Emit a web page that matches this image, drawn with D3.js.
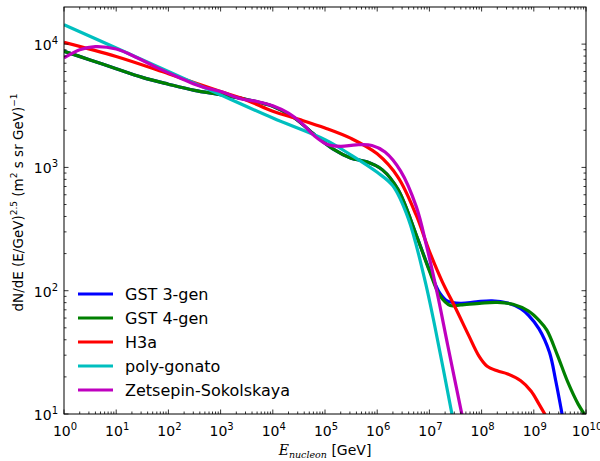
<!DOCTYPE html>
<html>
<head>
<meta charset="utf-8">
<script src="https://cdn.jsdelivr.net/npm/d3@7"></script>
<style>
  body { margin: 0; background: #fff; }
  svg { display: block; font-family: "DejaVu Sans", sans-serif; }
</style>
</head>
<body>
<svg id="chart" width="600" height="461"></svg>
<script>
// values, as log10(E / GeV) and log10(flux)
const gst4LogE = [0, 0.5, 1, 1.5, 2, 2.5, 3, 3.5, 4, 4.4, 4.8, 5.15, 5.5, 5.8, 6.1, 6.4, 6.75, 7.0, 7.2, 7.4, 7.6, 8.0, 8.3, 8.6, 8.9, 9.1, 9.25, 9.45, 9.65, 9.85, 10.0];
const gst4LogF = [3.942, 3.872, 3.80, 3.73, 3.675, 3.625, 3.59, 3.55, 3.495, 3.405, 3.265, 3.15, 3.075, 3.045, 2.98, 2.82, 2.45, 2.16, 1.96, 1.88, 1.885, 1.90, 1.905, 1.89, 1.835, 1.76, 1.68, 1.48, 1.26, 1.08, 0.98];

const gst3LogE = [0, 0.5, 1, 1.5, 2, 2.5, 3, 3.5, 4, 4.4, 4.8, 5.15, 5.5, 5.8, 6.1, 6.4, 6.75, 7.0, 7.2, 7.35, 7.6, 7.9, 8.2, 8.5, 8.75, 8.9, 9.1, 9.3, 9.42, 9.55];
const gst3LogF = [3.942, 3.872, 3.80, 3.73, 3.675, 3.625, 3.59, 3.55, 3.495, 3.405, 3.265, 3.15, 3.075, 3.045, 2.98, 2.82, 2.45, 2.17, 1.98, 1.915, 1.898, 1.91, 1.918, 1.90, 1.855, 1.80, 1.69, 1.50, 1.27, 0.98];

const h3aLogE = [0, 1, 2, 3, 3.5, 4, 4.5, 5, 5.5, 6, 6.4, 6.75, 7.0, 7.25, 7.5, 7.75, 7.95, 8.1, 8.3, 8.5, 8.75, 8.95, 9.1, 9.25];
const h3aLogF = [4.015, 3.90, 3.76, 3.615, 3.545, 3.455, 3.39, 3.32, 3.235, 3.11, 2.92, 2.61, 2.32, 2.07, 1.86, 1.64, 1.47, 1.39, 1.35, 1.325, 1.27, 1.185, 1.08, 0.97];

const polyLogE = [0, 1, 2, 3, 4, 5, 5.5, 6, 6.3, 6.6, 6.9, 7.1, 7.45];
const polyLogF = [4.158, 3.968, 3.778, 3.588, 3.40, 3.225, 3.10, 2.96, 2.85, 2.58, 2.11, 1.72, 0.96];

const zsLogE = [0, 0.3, 0.6, 1.0, 1.4, 1.8, 2.2, 2.6, 3.0, 3.4, 3.7, 4.0, 4.3, 4.55, 4.8, 5.05, 5.3, 5.6, 5.9, 6.15, 6.45, 6.75, 6.95, 7.15, 7.35, 7.64];
const zsLogF = [3.888, 3.955, 3.98, 3.96, 3.89, 3.805, 3.73, 3.66, 3.615, 3.555, 3.535, 3.50, 3.44, 3.36, 3.255, 3.185, 3.17, 3.183, 3.178, 3.125, 2.97, 2.68, 2.355, 1.98, 1.56, 0.96];

const seriesNames = ['GST 3-gen', 'GST 4-gen', 'H3a', 'poly-gonato', 'Zetsepin-Sokolskaya'];
const seriesColors = ['#0000ff', '#008000', '#ff0000', '#00bfbf', '#bf00bf'];
const seriesData = [[gst3LogE, gst3LogF], [gst4LogE, gst4LogF], [h3aLogE, h3aLogF], [polyLogE, polyLogF], [zsLogE, zsLogF]];

const xDomain = [1, 1e10];
const yDomain = [10, 2e4];
const xMajor = d3.range(0, 11);
const yMajor = d3.range(1, 5);

const margin = { left: 64, top: 7, right: 14, bottom: 47 };
const width = 600 - margin.left - margin.right;
const height = 461 - margin.top - margin.bottom;

const svg = d3.select('#chart');
svg.append('rect').attr('width', 600).attr('height', 461).attr('fill', '#fff');

const x = d3.scaleLog().domain(xDomain).range([0, width]);
const y = d3.scaleLog().domain(yDomain).range([height, 0]);

const g = svg.append('g').attr('transform', `translate(${margin.left},${margin.top})`);

g.append('clipPath').attr('id', 'clip')
  .append('rect').attr('width', width).attr('height', height);

// curves
const line = d3.line()
  .x(d => x(Math.pow(10, d[0])))
  .y(d => y(Math.pow(10, d[1])))
  .curve(d3.curveCatmullRom.alpha(0.5));

const curves = g.append('g').attr('clip-path', 'url(#clip)');
seriesData.forEach((s, i) => {
  const pts = s[0].map((e, j) => [e, s[1][j]]);
  curves.append('path')
    .attr('d', line(pts))
    .attr('fill', 'none')
    .attr('stroke', seriesColors[i])
    .attr('stroke-width', 3.2)
    .attr('stroke-linejoin', 'round');
});

// ticks, pointing inward on all four sides
const xMinor = [], yMinor = [];
xMajor.slice(0, -1).forEach(k => { for (let m = 2; m < 10; m++) xMinor.push(m * Math.pow(10, k)); });
yMajor.forEach(k => { for (let m = 2; m < 10; m++) { const v = m * Math.pow(10, k); if (v < yDomain[1]) yMinor.push(v); } });

const ticks = g.append('g').attr('stroke', '#000').attr('stroke-width', 0.8);
function xTicks(vals, len) {
  vals.forEach(v => {
    const px = x(v);
    ticks.append('line').attr('x1', px).attr('x2', px).attr('y1', height).attr('y2', height - len);
    ticks.append('line').attr('x1', px).attr('x2', px).attr('y1', 0).attr('y2', len);
  });
}
function yTicks(vals, len) {
  vals.forEach(v => {
    const py = y(v);
    ticks.append('line').attr('x1', 0).attr('x2', len).attr('y1', py).attr('y2', py);
    ticks.append('line').attr('x1', width).attr('x2', width - len).attr('y1', py).attr('y2', py);
  });
}
xTicks(xMajor.map(k => Math.pow(10, k)), 4.5);
xTicks(xMinor, 2.5);
yTicks(yMajor.map(k => Math.pow(10, k)), 4.5);
yTicks(yMinor, 2.5);

g.append('rect')
  .attr('width', width).attr('height', height)
  .attr('fill', 'none').attr('stroke', '#000').attr('stroke-width', 1);

// tick labels as 10^k
function powLabel(sel, k) {
  sel.append('tspan').text('10');
  sel.append('tspan').attr('font-size', 10).attr('dy', -6).text(k);
}
xMajor.forEach(k => {
  const t = g.append('text')
    .attr('x', x(Math.pow(10, k)) + 1)
    .attr('y', height + 22)
    .attr('text-anchor', 'middle')
    .attr('font-size', 14);
  powLabel(t, k);
});
yMajor.forEach(k => {
  const t = g.append('text')
    .attr('x', -6)
    .attr('y', y(Math.pow(10, k)) + 6)
    .attr('text-anchor', 'end')
    .attr('font-size', 14);
  powLabel(t, k);
});

// axis titles
const xl = svg.append('text')
  .attr('x', margin.left + width / 2)
  .attr('y', 455)
  .attr('text-anchor', 'middle')
  .attr('font-size', 14);
xl.append('tspan').attr('font-family', 'DejaVu Serif').attr('font-style', 'italic').text('E');
xl.append('tspan').attr('font-family', 'DejaVu Serif').attr('font-style', 'italic').attr('font-size', 9.5).attr('dy', 3).text('nucleon');
xl.append('tspan').attr('dy', -3).text(' [GeV]');

const yl = svg.append('text')
  .attr('transform', `translate(23,${margin.top + height / 2 - 8}) rotate(-90)`)
  .attr('text-anchor', 'middle')
  .attr('font-size', 13.5);
yl.append('tspan').text('dN/dE (E/GeV)');
yl.append('tspan').attr('font-size', 9).attr('dy', -6).text('2.5');
yl.append('tspan').attr('dy', 6).text('  (m');
yl.append('tspan').attr('font-size', 9).attr('dy', -6).text('2');
yl.append('tspan').attr('dy', 6).text(' s sr GeV)');
yl.append('tspan').attr('font-size', 9).attr('dy', -6).text('\u22121');

// legend
const legend = g.append('g').attr('transform', 'translate(14,287)');
seriesNames.forEach((name, i) => {
  const row = legend.append('g').attr('transform', `translate(0,${i * 24})`);
  row.append('line').attr('x1', 0).attr('x2', 35).attr('y1', 0).attr('y2', 0)
    .attr('stroke', seriesColors[i]).attr('stroke-width', 3.2);
  row.append('text').attr('x', 47).attr('y', 0).attr('dy', '0.36em')
    .attr('font-size', 16).text(name);
});
</script>
</body>
</html>
